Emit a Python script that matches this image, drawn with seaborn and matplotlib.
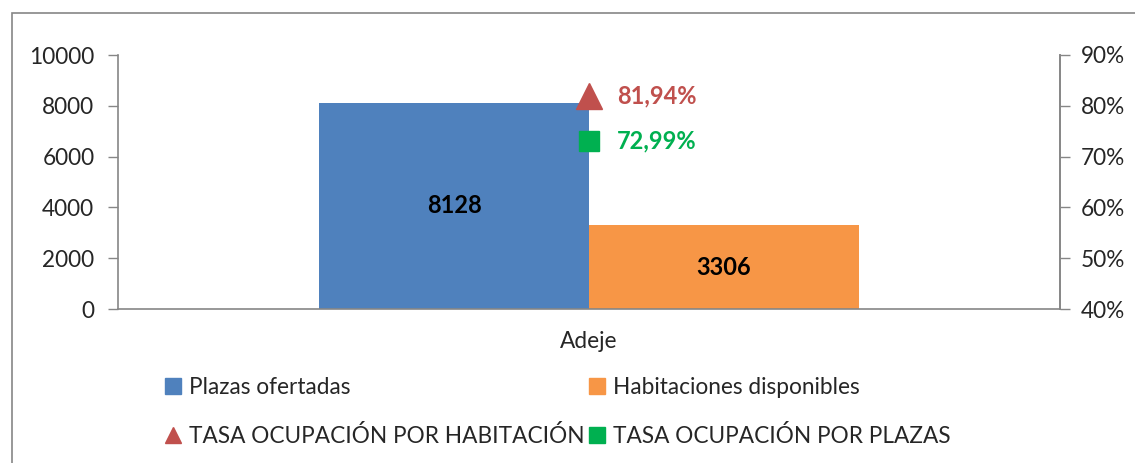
import matplotlib
matplotlib.use("Agg")
import matplotlib.pyplot as plt
import numpy as np
import pandas as pd
import seaborn as sns
from matplotlib.lines import Line2D
from matplotlib.patches import Rectangle
from matplotlib.ticker import FuncFormatter

# data
categories = ["Adeje"]
series_names = ["Plazas ofertadas", "Habitaciones disponibles"]
plazas_ofertadas = [8128]
habitaciones_disponibles = [3306]
tasa_habitacion = [81.94]
tasa_plazas = [72.99]
rate_names = ["TASA OCUPACIÓN POR HABITACIÓN", "TASA OCUPACIÓN POR PLAZAS"]

BLUE = "#4f81bd"
ORANGE = "#f79646"
RED = "#c0504d"
GREEN = "#00b050"
AXIS_GREY = "#868686"
FONT_SIZE = 16.3
LABEL_SIZE = 17

sns.set_theme(style="white")
plt.rcParams.update(
    {
        "font.family": ["Lato", "DejaVu Sans"],
        "font.size": FONT_SIZE,
        "xtick.labelsize": FONT_SIZE,
        "ytick.labelsize": FONT_SIZE,
        "figure.facecolor": "white",
        "axes.facecolor": "white",
    }
)

df = pd.DataFrame(
    {
        "municipio": categories * 2,
        "serie": [series_names[0]] * len(categories) + [series_names[1]] * len(categories),
        "valor": plazas_ofertadas + habitaciones_disponibles,
    }
)

fig = plt.figure(figsize=(11.35, 4.63), dpi=100)
ax = fig.add_axes([118 / 1135, 1 - 309 / 463, (1060 - 118) / 1135, (309 - 55) / 463])

# outer chart border
fig.patches.append(
    Rectangle((12 / 1135, -0.05), 1.1, 1 - 13 / 463 + 0.05, transform=fig.transFigure,
              fill=False, edgecolor=AXIS_GREY, linewidth=1.2)
)

sns.barplot(
    data=df, x="municipio", y="valor", hue="serie",
    palette=[BLUE, ORANGE], width=0.573, dodge=True, legend=False,
    saturation=1, linewidth=0, ax=ax,
)
for cont in ax.containers:
    ax.bar_label(cont, label_type="center", fontsize=LABEL_SIZE, fontweight="bold", color="black")

ax.set_xlim(-0.5, 0.5)
ax.set_ylim(0, 10000)
ax.set_yticks(np.arange(0, 10001, 2000))
ax.set_xlabel("")
ax.set_ylabel("")
ax.tick_params(axis="y", direction="out", length=7, width=1, color=AXIS_GREY, pad=10)
ax.tick_params(axis="x", which="major", length=0, pad=16)
ax.set_xticks([-0.5, 0.5], minor=True)
ax.tick_params(axis="x", which="minor", direction="out", length=6, width=1, color=AXIS_GREY)
ax.spines["top"].set_visible(False)
for side in ["left", "bottom", "right"]:
    ax.spines[side].set_color(AXIS_GREY)
    ax.spines[side].set_linewidth(1.2)

ax2 = ax.twinx()
ax2.set_ylim(40, 90)
ax2.set_yticks(np.arange(40, 91, 10))
ax2.yaxis.set_major_formatter(FuncFormatter(lambda v, _: f"{v:.0f}%"))
ax2.tick_params(axis="y", direction="out", length=7, width=1, color=AXIS_GREY, pad=8)
for side in ["top", "left", "bottom"]:
    ax2.spines[side].set_visible(False)
ax2.spines["right"].set_color(AXIS_GREY)
ax2.spines["right"].set_linewidth(1.2)

x_pos = np.arange(len(categories))
ax2.plot(x_pos, tasa_habitacion, linestyle="none", marker="^", markersize=19, color=RED)
ax2.plot(x_pos, tasa_plazas, linestyle="none", marker="s", markersize=15, color=GREEN)
for xi, v in zip(x_pos, tasa_habitacion):
    ax2.annotate(f"{v:.2f}%".replace(".", ","), (xi, v), xytext=(20, 0), textcoords="offset points",
                 ha="left", va="center", fontsize=LABEL_SIZE, fontweight="bold", color=RED)
for xi, v in zip(x_pos, tasa_plazas):
    ax2.annotate(f"{v:.2f}%".replace(".", ","), (xi, v), xytext=(20, 0), textcoords="offset points",
                 ha="left", va="center", fontsize=LABEL_SIZE, fontweight="bold", color=GREEN)

handles = [
    Line2D([], [], linestyle="none", marker="s", markersize=11, color=BLUE),
    Line2D([], [], linestyle="none", marker="^", markersize=12, color=RED),
    Line2D([], [], linestyle="none", marker="s", markersize=11, color=ORANGE),
    Line2D([], [], linestyle="none", marker="s", markersize=11, color=GREEN),
]
labels = [series_names[0], rate_names[0], series_names[1], rate_names[1]]
fig.legend(
    handles, labels, ncol=2, loc="upper left", bbox_to_anchor=(155 / 1135, 1 - 368 / 463),
    frameon=False, fontsize=FONT_SIZE, handlelength=0.8, handletextpad=0.3,
    columnspacing=0.15, labelspacing=1.2, borderaxespad=0,
)

fig.savefig("out.png", dpi=100)
